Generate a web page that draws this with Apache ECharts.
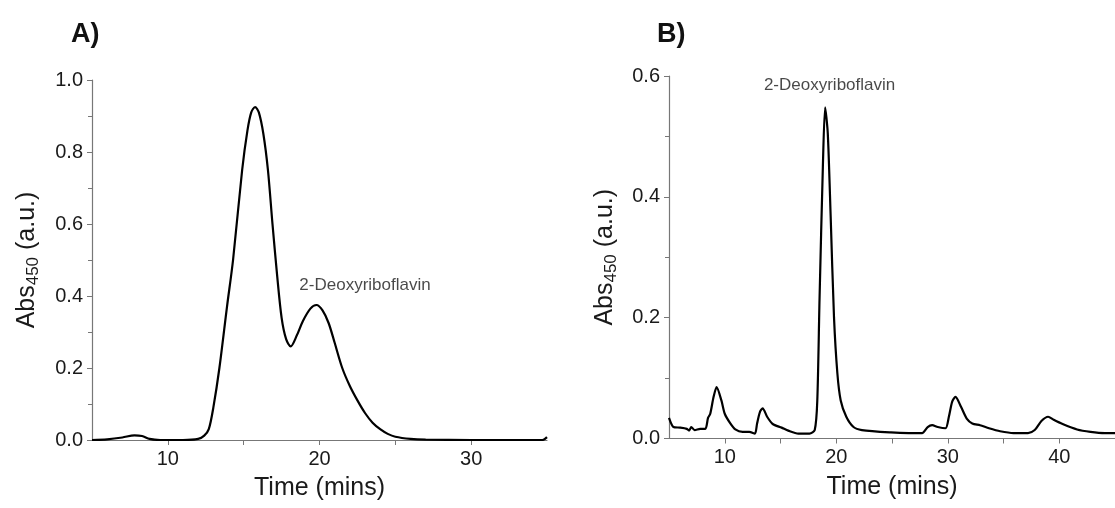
<!DOCTYPE html>
<html>
<head>
<meta charset="utf-8">
<script src="https://cdn.jsdelivr.net/npm/echarts@6.0.0/dist/echarts.min.js"></script>
<style>
  html, body { margin: 0; padding: 0; background: #fff; }
  #main { width: 1115px; height: 508px; }
</style>
</head>
<body>
<div id="main"></div>
<script>
// panel A: time (mins), abs450
var timeA = [5, 6, 7, 7.8, 8.3, 8.8, 9.5, 11, 12, 12.4, 12.7, 13.0, 13.4, 13.9, 14.3, 14.9, 15.25, 15.5, 15.75, 16.0,
    16.3, 16.6, 16.9, 17.2, 17.5, 17.8, 18.1, 18.5, 18.9, 19.4, 19.8, 20.2, 20.6, 21.0, 21.5, 22.0, 22.5, 23.0, 23.5, 24.0,
    24.5, 25, 26, 27, 30, 34.7, 35];
var absA = [0, 0.002, 0.007, 0.013, 0.011, 0.003, 0, 0, 0.003, 0.012, 0.03, 0.09, 0.2, 0.37, 0.5, 0.75, 0.86, 0.91, 0.925, 0.91,
    0.85, 0.75, 0.6, 0.46, 0.34, 0.28, 0.26, 0.29, 0.33, 0.365, 0.375, 0.36, 0.325, 0.27, 0.2, 0.15, 0.11, 0.075, 0.048, 0.03,
    0.017, 0.009, 0.003, 0.001, 0, 0, 0.008];

// panel B
var timeB = [5, 5.4, 6.0, 6.6, 6.8, 7.0, 7.3, 7.8, 8.26, 8.5, 8.7, 9.0, 9.27, 9.7, 10, 10.5, 10.95, 11.6, 12.2, 12.7,
    12.9, 13.16, 13.4, 13.8, 14.3, 15.1, 15.7, 16.6, 17.6, 18.07, 18.3, 18.5, 18.8, 19.0, 19.24, 19.5, 19.8, 20.1, 20.4, 20.9,
    21.55, 22.3, 24.9, 26.5, 27.7, 28.2, 28.6, 29.1, 29.8, 30.1, 30.4, 30.7, 31.2, 31.7, 32.2, 32.9, 33.7, 34.7, 35.9, 37.2,
    37.8, 38.4, 39.0, 39.5, 40.3, 41.6, 42.8, 44.1, 45];
var absB = [0.034, 0.019, 0.018, 0.016, 0.013, 0.019, 0.014, 0.016, 0.016, 0.034, 0.041, 0.069, 0.085, 0.063, 0.041, 0.025, 0.015, 0.011, 0.011, 0.008,
    0.025, 0.044, 0.05, 0.036, 0.024, 0.018, 0.013, 0.008, 0.008, 0.014, 0.063, 0.23, 0.45, 0.548, 0.505, 0.367, 0.2, 0.108, 0.063, 0.036,
    0.019, 0.014, 0.01, 0.009, 0.009, 0.019, 0.022, 0.019, 0.017, 0.036, 0.061, 0.069, 0.052, 0.033, 0.025, 0.022, 0.017, 0.012, 0.009, 0.009,
    0.014, 0.029, 0.036, 0.031, 0.024, 0.015, 0.011, 0.009, 0.009];

var peakLabel = '2-Deoxyriboflavin';
var labelPosA = [23.0, 0.43];
var labelPosB = [19.4, 0.584];

var font = 'Liberation Sans, Arial, Helvetica, sans-serif';
var txt = '#1a1a1a';

function pairs(xs, ys) {
    return xs.map(function(x, i) { return [x, ys[i]]; });
}

function xAxis(idx, max) {
    return {
        type: 'value', gridIndex: idx, min: 5, max: max, interval: 5,
        name: 'Time (mins)', nameLocation: 'middle', nameGap: 36,
        nameTextStyle: { fontFamily: font, fontSize: 25, color: txt },
        axisLine: { show: true, lineStyle: { color: '#777', width: 1.2 } },
        axisTick: { show: true, length: 5, lineStyle: { color: '#777' } },
        axisLabel: {
            margin: 9, fontFamily: font, fontSize: 20, color: txt,
            showMinLabel: false, showMaxLabel: false,
            formatter: function(v) { return v % 10 === 0 ? String(v) : ''; }
        },
        splitLine: { show: false }
    };
}

function yAxis(idx, max, gap) {
    return {
        type: 'value', gridIndex: idx, min: 0, max: max, interval: 0.2,
        name: '{a|Abs}{s|450}{a| (a.u.)}', nameLocation: 'middle', nameGap: gap,
        nameTextStyle: {
            rich: {
                a: { fontFamily: font, fontSize: 25, color: txt, lineHeight: 30, verticalAlign: 'middle' },
                s: { fontFamily: font, fontSize: 17, color: txt, lineHeight: 17, verticalAlign: 'bottom' }
            }
        },
        axisLine: { show: true, lineStyle: { color: '#777', width: 1.2 } },
        axisTick: { show: true, length: 5, lineStyle: { color: '#777' } },
        minorTick: { show: true, splitNumber: 2, length: 4, lineStyle: { color: '#777' } },
        axisLabel: {
            margin: 9, fontFamily: font, fontSize: 20, color: txt,
            formatter: function(v) { return v.toFixed(1); }
        },
        splitLine: { show: false },
        minorSplitLine: { show: false }
    };
}

function annotation(idx, pos) {
    return {
        type: 'scatter', xAxisIndex: idx, yAxisIndex: idx,
        symbolSize: 0, silent: true,
        data: [pos],
        label: {
            show: true, position: 'inside', formatter: peakLabel,
            fontFamily: font, fontSize: 17, color: txt
        }
    };
}

var myChart = echarts.init(document.getElementById('main'), null, { renderer: 'canvas' });

option = {
    animation: false,
    backgroundColor: '#fff',
    title: [
        { text: 'A)', left: 66, top: 16, textStyle: { fontFamily: font, fontSize: 27, fontWeight: 'bold', color: '#111' } },
        { text: 'B)', left: 652, top: 16, textStyle: { fontFamily: font, fontSize: 27, fontWeight: 'bold', color: '#111' } }
    ],
    grid: [
        { left: 92, top: 80, width: 455, height: 360 },
        { left: 669, top: 76, width: 452, height: 362.5 }
    ],
    xAxis: [xAxis(0, 35), xAxis(1, 45)],
    yAxis: [yAxis(0, 1.0, 50), yAxis(1, 0.6, 49)],
    series: [
        {
            type: 'line', xAxisIndex: 0, yAxisIndex: 0,
            data: pairs(timeA, absA),
            smooth: 0.3, showSymbol: false, silent: true,
            lineStyle: { color: '#000', width: 2.2 }
        },
        {
            type: 'line', xAxisIndex: 1, yAxisIndex: 1,
            data: pairs(timeB, absB),
            smooth: 0.25, showSymbol: false, silent: true,
            lineStyle: { color: '#000', width: 2.2 }
        },
        annotation(0, labelPosA),
        annotation(1, labelPosB)
    ]
};

myChart.setOption(option);
</script>
</body>
</html>
